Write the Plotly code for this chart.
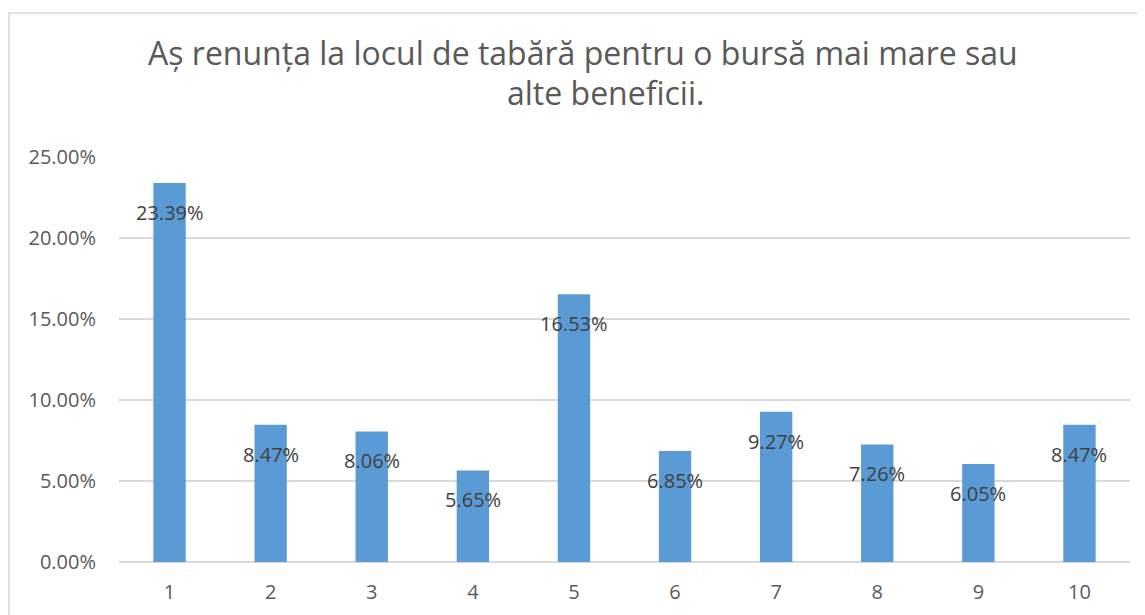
import plotly.graph_objects as go

categories = ["1", "2", "3", "4", "5", "6", "7", "8", "9", "10"]
values = [0.2339, 0.0847, 0.0806, 0.0565, 0.1653, 0.0685, 0.0927, 0.0726, 0.0605, 0.0847]
title_lines = ["Aș renunța la locul de tabără pentru o bursă mai mare sau", "alte beneficii."]

FONT = "Open Sans, sans-serif"
W, H = 1145, 615
ml, mr, mt, mb = 111, 23, 149, 61
pw, ph = W - ml - mr, H - mt - mb


def px_x(p):
    return (p - ml) / pw


def px_y(p):
    return (H - mb - p) / ph


fig = go.Figure()
fig.add_trace(go.Bar(
    x=categories, y=values,
    marker=dict(color="#5B9BD5", line=dict(width=0)),
    width=0.32,
    hoverinfo="x+y",
))

annotations = []
for i, v in enumerate(values):
    annotations.append(dict(
        x=i, y=v, xref="x", yref="y", text=f"{v*100:.2f}%",
        showarrow=False, yanchor="top", yshift=-14,
        font=dict(family=FONT, size=20, color="#404040"),
    ))

title_pos = [(575, 45), (597, 85)]
for t, (cx, cy) in zip(title_lines, title_pos):
    annotations.append(dict(
        x=px_x(cx), y=px_y(cy), xref="paper", yref="paper", text=t,
        showarrow=False, xanchor="center", yanchor="middle",
        font=dict(family=FONT, size=32, color="#595959"),
    ))

fig.update_layout(
    width=W, height=H,
    margin=dict(l=ml, r=mr, t=mt, b=mb, autoexpand=False),
    paper_bgcolor="white", plot_bgcolor="white",
    showlegend=False,
    annotations=annotations,
    xaxis=dict(
        type="category", showgrid=False, zeroline=False,
        showline=False, ticks="", automargin=False,
        ticklabelstandoff=16,
        tickfont=dict(family=FONT, size=20, color="#595959"),
    ),
    yaxis=dict(
        range=[0, 0.25], dtick=0.05, tickformat=".2%",
        showgrid=True, gridcolor="#D9D9D9", gridwidth=1.5,
        zeroline=True, zerolinecolor="#D9D9D9", zerolinewidth=1.5,
        showline=False, ticks="", automargin=False,
        ticklabelstandoff=22,
        tickfont=dict(family=FONT, size=20, color="#595959"),
    ),
    shapes=[dict(
        type="rect", xref="paper", yref="paper",
        x0=px_x(1), x1=px_x(1170),
        y0=px_y(640), y1=px_y(5),
        line=dict(color="#D9D9D9", width=1.5), fillcolor="rgba(0,0,0,0)",
        layer="below",
    )],
)

fig.write_html("out.html")
